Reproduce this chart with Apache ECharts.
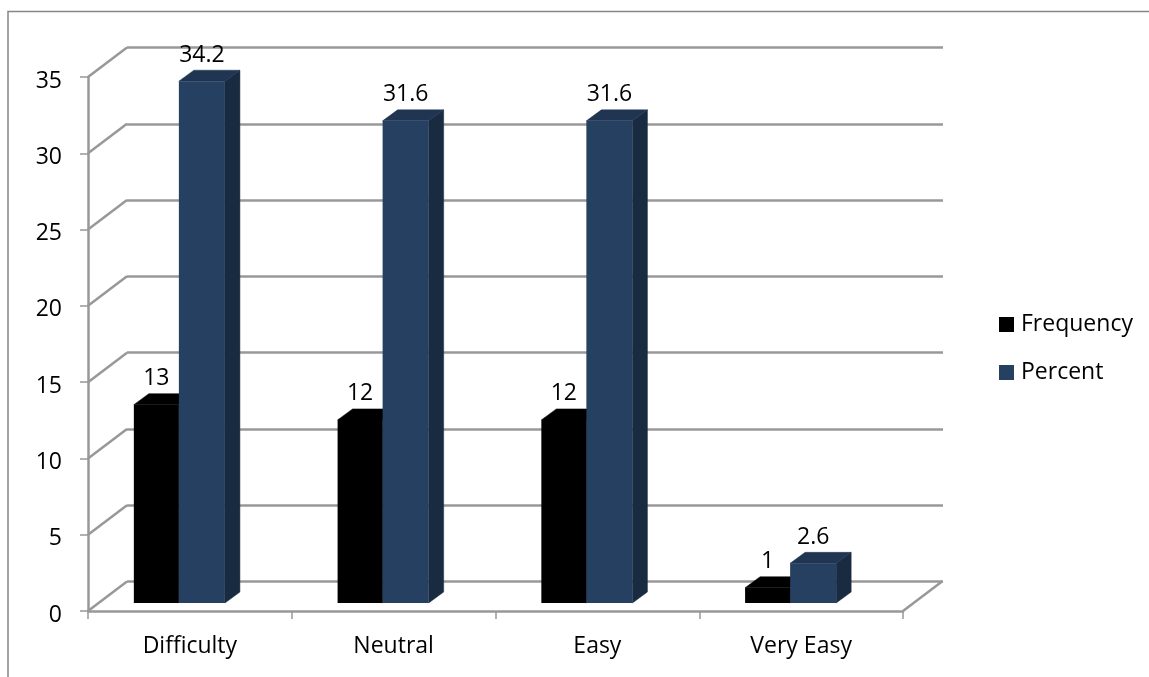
<!DOCTYPE html>
<html>
<head>
<meta charset="utf-8">
<style>html,body{margin:0;padding:0;background:#fff}#chart{width:1149px;height:677px}</style>
<script src="https://cdn.jsdelivr.net/npm/echarts@6/dist/echarts.min.js"></script>
</head>
<body>
<div id="chart"></div>
<script>
// Survey responses by ease rating, drawn as pseudo-3D clustered columns
const categories = ['Difficulty', 'Neutral', 'Easy', 'Very Easy'];
const frequency = [13, 12, 12, 1];
const percent = [34.2, 31.6, 31.6, 2.6];
const valueTicks = [0, 5, 10, 15, 20, 25, 30, 35];

const FONT = '"Open Sans", sans-serif';
const FONT_SIZE = 23;
const AXIS_COLOR = '#989898';
const WALL = { dx: 39, dy: 29.5 };      // depth of the back wall
const INSET = { dx: 0, dy: 8 };         // columns sit slightly behind the front edge
const SIDE = { dx: 15, dy: 11 };        // depth of each column

function columnSeries(name, values, offset, faces) {
  return {
    name,
    type: 'custom',
    xAxisIndex: 0,
    yAxisIndex: 0,
    z: 5,
    clip: false,
    itemStyle: { color: faces.front },
    data: values.map((v, i) => [i, v]),
    encode: { x: 0, y: 1 },
    renderItem(params, api) {
      const base = api.coord([api.value(0), 0]);
      const top = api.coord([api.value(0), api.value(1)]);
      const band = api.size([1, 0])[0];
      const l = base[0] + band * offset[0] + INSET.dx;
      const r = base[0] + band * offset[1] + INSET.dx;
      const b = base[1] - INSET.dy;
      const t = top[1] - INSET.dy;
      return {
        type: 'group',
        children: [
          { type: 'polygon', shape: { points: [[r, b], [r + SIDE.dx, b - SIDE.dy], [r + SIDE.dx, t - SIDE.dy], [r, t]] }, style: { fill: faces.side, stroke: faces.side, lineWidth: 0.5 } },
          { type: 'polygon', shape: { points: [[l, t], [l + SIDE.dx, t - SIDE.dy], [r + SIDE.dx, t - SIDE.dy], [r, t]] }, style: { fill: faces.top, stroke: faces.top, lineWidth: 0.5 } },
          { type: 'rect', shape: { x: l, y: t, width: r - l, height: b - t }, style: { fill: faces.front } },
          { type: 'text', z2: 20, style: { x: (l + r) / 2, y: t - 26, text: String(api.value(1)), fill: '#000', font: FONT_SIZE + 'px ' + FONT, align: 'center', verticalAlign: 'middle' } }
        ]
      };
    }
  };
}

const option = {
  animation: false,
  backgroundColor: '#fff',
  legend: {
    orient: 'vertical',
    left: 994,
    top: 308,
    data: ['Frequency', 'Percent'],
    icon: 'rect',
    itemWidth: 15,
    itemHeight: 15,
    itemGap: 25,
    selectedMode: false,
    textStyle: { fontFamily: FONT, fontSize: FONT_SIZE, color: '#000', padding: [0, 0, 0, 2] }
  },
  grid: [
    { left: 88, top: 77, width: 815, height: 534 },
    { left: 88 + WALL.dx, top: 77 - WALL.dy, width: 816, height: 534 }
  ],
  xAxis: [
    {
      type: 'category',
      gridIndex: 0,
      data: categories,
      axisLine: { lineStyle: { color: AXIS_COLOR, width: 2.5 } },
      axisTick: { show: true, alignWithLabel: false, length: 8, lineStyle: { color: AXIS_COLOR, width: 1.5 } },
      axisLabel: { color: '#000', fontFamily: FONT, fontSize: FONT_SIZE, margin: 24 }
    },
    { type: 'value', gridIndex: 1, min: 0, max: 1, show: false }
  ],
  yAxis: [
    {
      type: 'value',
      gridIndex: 0,
      min: 0,
      max: 35,
      interval: 5,
      axisLine: { show: true, lineStyle: { color: AXIS_COLOR, width: 2.5 } },
      axisTick: { show: true, length: 8, lineStyle: { color: AXIS_COLOR, width: 1.5 } },
      axisLabel: { color: '#000', fontFamily: FONT, fontSize: FONT_SIZE, margin: 26, verticalAlign: 'top', lineHeight: 8, customValues: valueTicks },
      splitLine: { show: false }
    },
    {
      type: 'value',
      gridIndex: 1,
      min: 0,
      max: 35,
      interval: 5,
      axisLine: { show: false },
      axisTick: { show: false },
      axisLabel: { show: false },
      splitLine: { show: true, lineStyle: { color: AXIS_COLOR, width: 2.5 } }
    }
  ],
  series: [
    {
      // Diagonal wall edges joining each front tick to its back gridline
      type: 'custom',
      name: 'wall edges',
      xAxisIndex: 0,
      yAxisIndex: 0,
      z: 1,
      clip: false,
      data: valueTicks.map(v => [0, v]),
      encode: { x: 0, y: 1 },
      renderItem(params, api) {
        const p = api.coord([0, api.value(1)]);
        const x = p[0] - api.size([1, 0])[0] / 2;
        return { type: 'line', shape: { x1: x, y1: p[1], x2: x + WALL.dx, y2: p[1] - WALL.dy }, style: { stroke: AXIS_COLOR, lineWidth: 2.5 } };
      }
    },
    {
      // Right edge of the floor
      type: 'custom',
      name: 'floor edge',
      xAxisIndex: 0,
      yAxisIndex: 0,
      z: 1,
      clip: false,
      data: [[categories.length - 1, 0]],
      encode: { x: 0, y: 1 },
      renderItem(params, api) {
        const p = api.coord([api.value(0), 0]);
        const x = p[0] + api.size([1, 0])[0] / 2;
        return { type: 'line', shape: { x1: x, y1: p[1], x2: x + WALL.dx, y2: p[1] - WALL.dy }, style: { stroke: AXIS_COLOR, lineWidth: 2.5 } };
      }
    },
    columnSeries('Frequency', frequency, [-0.275, -0.054], { front: '#000000', side: '#000000', top: '#000000' }),
    columnSeries('Percent', percent, [-0.054, 0.172], { front: '#254061', side: '#192b41', top: '#1f3552' })
  ],
  graphic: [
    // Chart frame
    { type: 'polyline', silent: true, shape: { points: [[8, 677], [8, 11.5], [1149, 11.5]] }, style: { stroke: '#868686', lineWidth: 1.5, fill: null } }
  ]
};

echarts.init(document.getElementById('chart'), null, { renderer: 'canvas' }).setOption(option);
</script>
</body>
</html>
